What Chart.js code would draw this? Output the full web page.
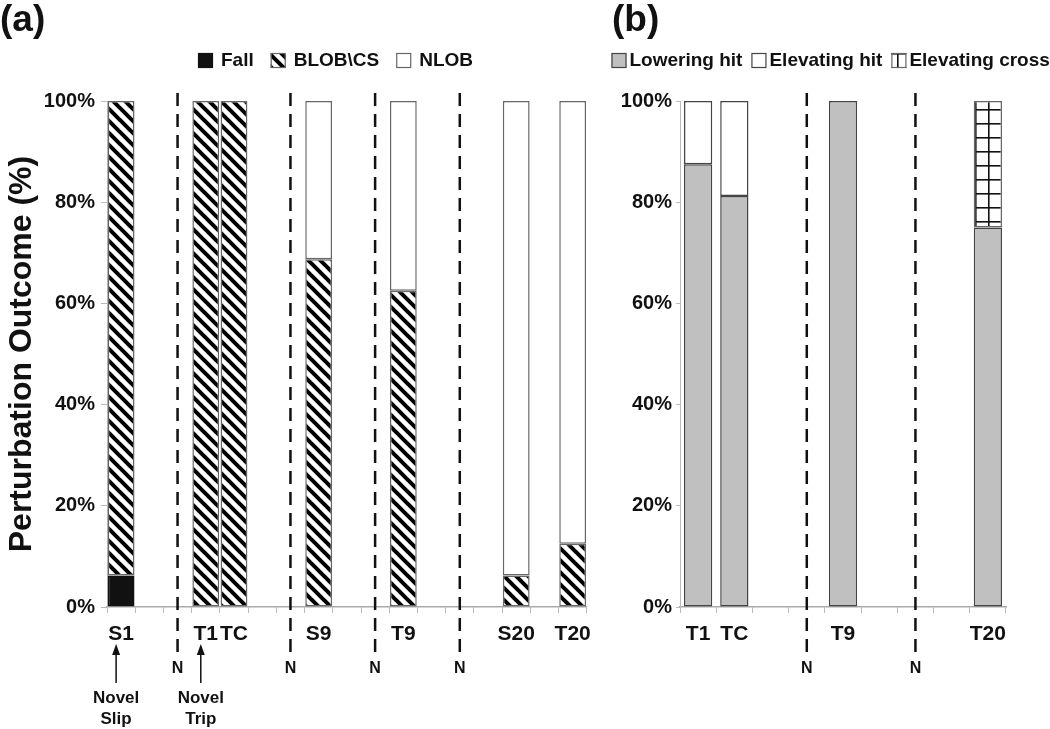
<!DOCTYPE html>
<html>
<head>
<meta charset="utf-8">
<script src="https://cdn.jsdelivr.net/npm/chart.js@4.4.1/dist/chart.umd.min.js"></script>
<style>
  html, body { margin: 0; padding: 0; background: #fff; }
  #chartA { position: absolute; left: 0; top: 0; }
  #chartB { position: absolute; left: 600px; top: 0; }
</style>
</head>
<body>
<canvas id="chartA" width="600" height="729"></canvas>
<canvas id="chartB" width="450" height="729"></canvas>
<script>
// panel (a) - 'N' slots are the dashed separators
var slotsA = ['S1', '', 'N', 'T1', 'TC', '', 'N', 'S9', '', 'N', 'T9', '', 'N', '', 'S20', '', 'T20'];
var fallA  = [6.25, null, null, null, null, null, null, null, null, null, null, null, null, null, null, null, null];
var blobA  = [93.75, null, null, 100, 100, null, null, 68.75, null, null, 62.5, null, null, null, 6.25, null, 12.5];
var nlobA  = [null, null, null, null, null, null, null, 31.25, null, null, 37.5, null, null, null, 93.75, null, 87.5];
var notesA = [['S1', 'Novel', 'Slip'], ['T1', 'Novel', 'Trip']];

// panel (b)
var slotsB     = ['T1', 'TC', '', 'N', 'T9', '', 'N', '', 'T20'];
var lowerB     = [87.5, 81.25, null, null, 100, null, null, null, 75];
var elevHitB   = [12.5, 18.75, null, null, null, null, null, null, null];
var elevCrossB = [null, null, null, null, null, null, null, null, 25];

var FONT = '"Liberation Sans", Arial, Helvetica, sans-serif';
Chart.defaults.font.family = FONT;
Chart.defaults.color = '#111';

function stripes() {
	var c = document.createElement('canvas');
	c.width = 12; c.height = 12;
	var g = c.getContext('2d');
	g.fillStyle = '#fff';
	g.fillRect(0, 0, 12, 12);
	g.strokeStyle = '#000';
	g.lineWidth = 4;
	[-12, 0, 12].forEach(function (o) {
		g.beginPath();
		g.moveTo(o - 2, -2);
		g.lineTo(o + 14, 14);
		g.stroke();
	});
	return g.createPattern(c, 'repeat');
}

function crossGrid() {
	var c = document.createElement('canvas');
	c.width = 13; c.height = 14;
	var g = c.getContext('2d');
	g.fillStyle = '#fff';
	g.fillRect(0, 0, 13, 14);
	g.fillStyle = '#111';
	g.fillRect(0, 0, 1.6, 14);
	g.fillRect(0, 0, 13, 1.6);
	var p = g.createPattern(c, 'repeat');
	p.setTransform(new DOMMatrix([1, 0, 0, 1, 11, 11]));
	return p;
}

// panel letter, legend, dashed separators and the arrows under the axis
var extras = {
	id: 'extras',
	afterDraw: function (chart, args, o) {
		var ctx = chart.ctx, xs = chart.scales.x;
		ctx.save();
		ctx.fillStyle = '#111';
		ctx.textBaseline = 'middle';
		ctx.textAlign = 'left';
		ctx.font = 'bold 37px ' + FONT;
		ctx.fillText(o.letter, o.letterX, 21);

		ctx.font = 'bold 19px ' + FONT;
		var lx = o.legendX;
		chart.data.datasets.forEach(function (ds) {
			ctx.fillStyle = ds.backgroundColor;
			ctx.fillRect(lx, 53, 15, 15);
			ctx.strokeStyle = ds.borderColor;
			ctx.lineWidth = 1.2;
			ctx.strokeRect(lx + 0.5, 53.5, 14, 14);
			lx += 15 + o.textGap;
			ctx.fillStyle = '#111';
			ctx.fillText(ds.label, lx, 61);
			lx += ctx.measureText(ds.label).width + o.itemGap;
		});

		ctx.textAlign = 'center';
		chart.data.labels.forEach(function (lab, i) {
			if (lab !== 'N') return;
			var px = xs.getPixelForValue(i);
			ctx.strokeStyle = '#111';
			ctx.lineWidth = 2.5;
			ctx.setLineDash([13, 8]);
			ctx.beginPath();
			ctx.moveTo(px, 93);
			ctx.lineTo(px, 653);
			ctx.stroke();
			ctx.setLineDash([]);
			ctx.font = 'bold 16px ' + FONT;
			ctx.fillText('N', px, 669);
		});

		(o.notes || []).forEach(function (n) {
			var px = xs.getPixelForValue(chart.data.labels.indexOf(n[0])) - 5;
			ctx.strokeStyle = '#111';
			ctx.lineWidth = 1.5;
			ctx.beginPath();
			ctx.moveTo(px, 652);
			ctx.lineTo(px, 683);
			ctx.stroke();
			ctx.beginPath();
			ctx.moveTo(px, 644);
			ctx.lineTo(px - 4, 655);
			ctx.lineTo(px + 4, 655);
			ctx.closePath();
			ctx.fill();
			ctx.font = 'bold 17px ' + FONT;
			ctx.fillText(n[1], px, 698);
			ctx.fillText(n[2], px, 719);
		});
		ctx.restore();
	}
};

function xAxis() {
	return {
		stacked: true,
		afterFit: function (s) { s.height = 122; },
		grid: { drawOnChartArea: false, tickLength: 6, color: '#bbb', offset: true },
		border: { color: '#aaa', width: 1.5 },
		ticks: {
			autoSkip: false, maxRotation: 0, padding: 9,
			font: { size: 21, weight: 'bold' }, color: '#111',
			callback: function (v) {
				var l = this.getLabelForValue(v);
				return l === 'N' ? '' : l;
			}
		}
	};
}

new Chart(document.getElementById('chartA'), {
	type: 'bar',
	data: {
		labels: slotsA,
		datasets: [
			{ label: 'Fall', data: fallA, backgroundColor: '#111', borderColor: '#111' },
			{ label: 'BLOB\\CS', data: blobA, backgroundColor: stripes(), borderColor: '#666' },
			{ label: 'NLOB', data: nlobA, backgroundColor: '#fff', borderColor: '#666' }
		]
	},
	options: {
		responsive: false,
		animation: false,
		layout: { padding: { top: 101, right: 8, left: 0, bottom: 0 } },
		datasets: { bar: { barPercentage: 0.95, categoryPercentage: 1, borderWidth: 1.5, borderSkipped: false } },
		plugins: {
			legend: { display: false },
			tooltip: { enabled: false },
			extras: { letter: '(a)', letterX: 0, legendX: 198, textGap: 8, itemGap: 17, notes: notesA }
		},
		scales: {
			x: xAxis(),
			y: {
				stacked: true, min: 0, max: 100,
				afterFit: function (s) { s.width = 107; },
				ticks: { stepSize: 20, padding: 6, font: { size: 20, weight: 'bold' }, color: '#111',
					callback: function (v) { return v + '%'; } },
				grid: { drawOnChartArea: false, tickLength: 6, color: '#bbb' },
				border: { color: '#bbb' },
				title: { display: true, text: 'Perturbation Outcome (%)', color: '#111',
					font: { size: 32, weight: 700 }, padding: { top: 3, bottom: 0 } }
			}
		}
	},
	plugins: [extras]
});

new Chart(document.getElementById('chartB'), {
	type: 'bar',
	data: {
		labels: slotsB,
		datasets: [
			{ label: 'Lowering hit', data: lowerB, backgroundColor: '#c0c0c0', borderColor: '#444' },
			{ label: 'Elevating hit', data: elevHitB, backgroundColor: '#fff', borderColor: '#444' },
			{ label: 'Elevating cross', data: elevCrossB, backgroundColor: crossGrid(), borderColor: '#666' }
		]
	},
	options: {
		responsive: false,
		animation: false,
		layout: { padding: { top: 101, right: 44, left: 0, bottom: 0 } },
		datasets: { bar: { barPercentage: 0.78, categoryPercentage: 1, borderWidth: 1.5, borderSkipped: false } },
		plugins: {
			legend: { display: false },
			tooltip: { enabled: false },
			extras: { letter: '(b)', letterX: 12, legendX: 11.5, textGap: 3, itemGap: 9 }
		},
		scales: {
			x: xAxis(),
			y: {
				stacked: true, min: 0, max: 100,
				afterFit: function (s) { s.width = 80; },
				ticks: { stepSize: 20, padding: 4, font: { size: 20, weight: 'bold' }, color: '#111',
					callback: function (v) { return v + '%'; } },
				grid: { drawOnChartArea: false, tickLength: 4, color: '#bbb' },
				border: { color: '#bbb' }
			}
		}
	},
	plugins: [extras]
});
</script>
</body>
</html>
